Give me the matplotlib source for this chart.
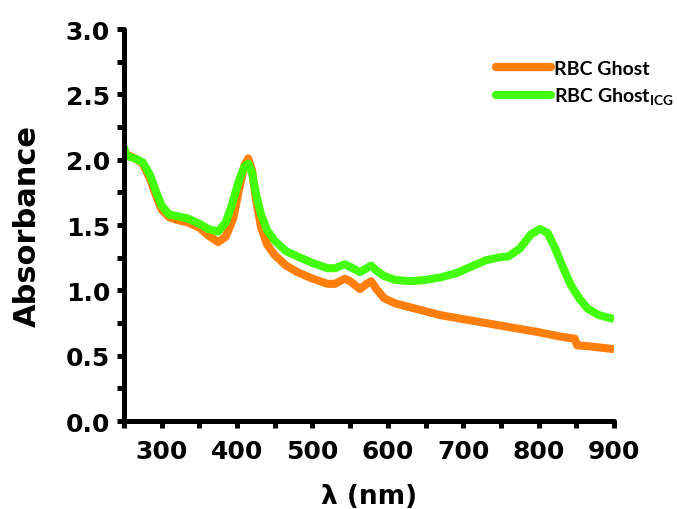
import numpy as np
from matplotlib import pyplot as plt
from matplotlib.ticker import MultipleLocator

# wavelength (nm) / absorbance
wl_ghost = [250, 265, 275, 285, 293, 300, 310, 320, 335, 350, 362, 375, 385, 395, 403, 410, 415,
            420, 425, 432, 440, 450, 465, 480, 500, 520, 530, 543, 550, 563, 572, 578, 585, 595,
            610, 630, 650, 670, 700, 730, 760, 800, 830, 848, 851, 870, 900]
abs_ghost = [2.05, 2.01, 1.97, 1.85, 1.72, 1.62, 1.56, 1.54, 1.52, 1.48, 1.42, 1.37, 1.41, 1.55,
             1.78, 1.96, 2.01, 1.92, 1.70, 1.48, 1.35, 1.27, 1.19, 1.14, 1.09, 1.05, 1.05, 1.09,
             1.07, 1.01, 1.05, 1.07, 1.01, 0.94, 0.90, 0.87, 0.84, 0.81, 0.78, 0.75, 0.72, 0.68,
             0.645, 0.63, 0.58, 0.57, 0.55]

wl_icg = [250, 253, 265, 275, 285, 293, 300, 310, 320, 335, 350, 362, 375, 385, 393, 403, 410,
          415, 420, 425, 432, 440, 450, 465, 480, 500, 520, 530, 543, 550, 563, 572, 578, 585,
          595, 610, 630, 650, 670, 690, 710, 730, 745, 760, 775, 790, 802, 812, 822, 832, 842,
          847, 855, 865, 880, 900]
abs_icg = [2.10, 2.03, 2.01, 1.98, 1.88, 1.75, 1.65, 1.58, 1.57, 1.55, 1.51, 1.47, 1.45, 1.52,
           1.65, 1.85, 1.95, 1.97, 1.90, 1.74, 1.58, 1.46, 1.38, 1.30, 1.26, 1.21, 1.17, 1.17,
           1.20, 1.18, 1.14, 1.17, 1.19, 1.15, 1.11, 1.08, 1.07, 1.08, 1.10, 1.13, 1.18, 1.23,
           1.25, 1.26, 1.32, 1.43, 1.47, 1.44, 1.32, 1.18, 1.05, 1.00, 0.93, 0.86, 0.81, 0.78]


def main():
    plt.rcParams['font.family'] = ['DejaVu Sans']
    plt.rcParams['mathtext.fontset'] = 'custom'
    plt.rcParams['mathtext.bf'] = 'Lato:bold'

    fig = plt.figure(figsize=(6.77, 5.10), dpi=100)
    ax = fig.add_axes([0.183, 0.1725, 0.724, 0.7685])

    ax.plot(wl_ghost, abs_ghost, color='#ff7f0a', lw=5.8, solid_capstyle='butt',
            solid_joinstyle='round', label='RBC Ghost')
    ax.plot(wl_icg, abs_icg, color='#44ff0a', lw=5.8, solid_capstyle='butt',
            solid_joinstyle='round', label=r'RBC Ghost$_{\mathbf{ICG}}$')

    ax.set_xlim(250, 900)
    ax.set_ylim(0, 3.0)
    ax.xaxis.set_major_locator(MultipleLocator(100))
    ax.xaxis.set_minor_locator(MultipleLocator(50))
    ax.yaxis.set_major_locator(MultipleLocator(0.5))
    ax.yaxis.set_minor_locator(MultipleLocator(0.25))
    ax.yaxis.set_major_formatter(plt.FormatStrFormatter('%.1f'))

    for side in ['top', 'right']:
        ax.spines[side].set_visible(False)
    for side in ['left', 'bottom']:
        ax.spines[side].set_linewidth(3.6)
        ax.spines[side].set_capstyle('round')

    ax.tick_params(which='both', direction='out', width=3.6, length=5, color='black')
    ax.tick_params(which='major', labelsize=18)
    ax.tick_params(axis='x', which='major', pad=8)
    ax.tick_params(axis='y', which='major', pad=5)
    for lab in ax.get_xticklabels() + ax.get_yticklabels():
        lab.set_fontweight('bold')

    ax.set_xlabel('λ (nm)', fontsize=19, fontweight='bold', labelpad=14)
    ax.set_ylabel('Absorbance', fontsize=22, fontweight='bold', labelpad=17)

    leg = fig.legend(loc='upper left', bbox_to_anchor=(0.733, 0.88), frameon=False,
                     borderpad=0, borderaxespad=0,
                     handlelength=2.8, handletextpad=0.15, labelspacing=0.45,
                     prop={'family': 'Lato', 'weight': 'bold', 'size': 14})
    for line in leg.get_lines():
        line.set_solid_capstyle('round')
        line.set_linewidth(6)

    fig.savefig('out.png', dpi=100)


if __name__ == "__main__":
    main()
